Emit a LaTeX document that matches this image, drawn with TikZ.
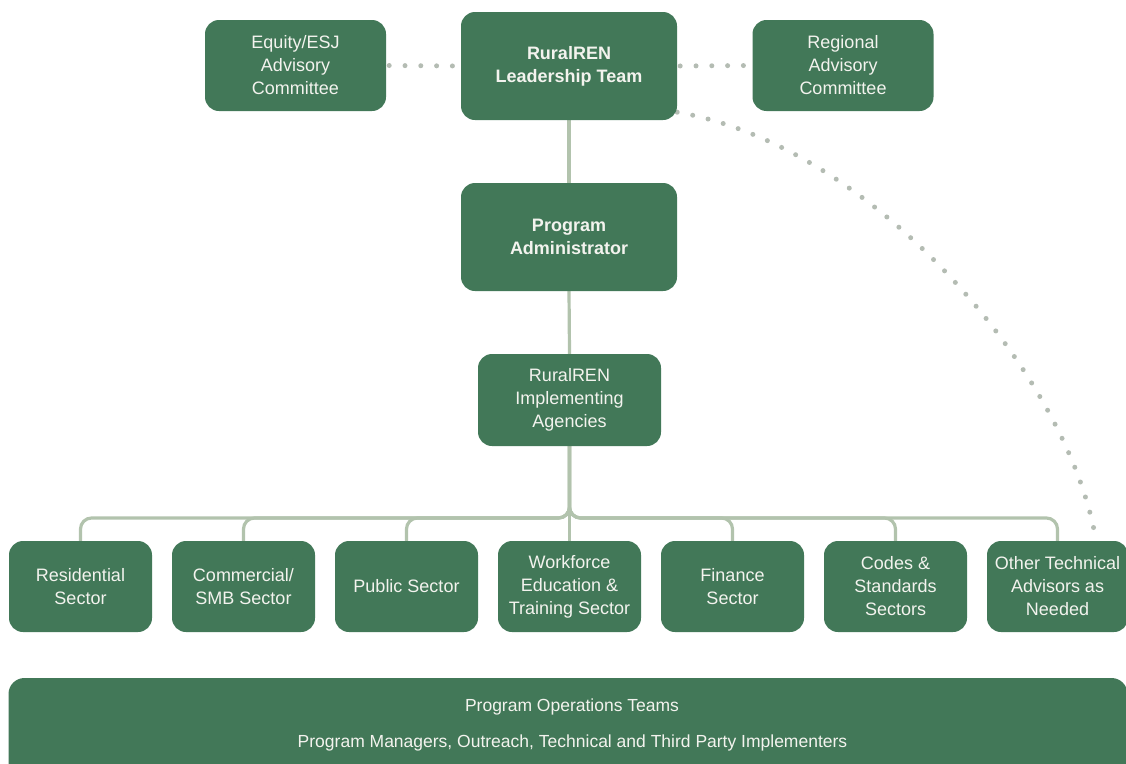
\documentclass[tikz,border=0pt]{standalone}
\usepackage{fontspec}
\setmainfont{Liberation Sans}
\usetikzlibrary{backgrounds,calc}
\definecolor{boxgreen}{HTML}{427858}
\definecolor{linegreen}{HTML}{B2C3AD}
\definecolor{dotgray}{HTML}{B4BCB3}
\definecolor{txtwhite}{HTML}{F3F3EE}
\begin{document}
\begin{tikzpicture}[x=1pt,y=-1pt,
  box/.style={fill=boxgreen, rounded corners=14pt, text=txtwhite, align=center,
    inner sep=0pt, font=\fontsize{18}{23}\selectfont},
  topbox/.style={box, minimum width=181pt, minimum height=91pt},
  bigbox/.style={box, minimum width=216pt, minimum height=108pt, font=\fontsize{18}{23}\selectfont\bfseries},
  secbox/.style={box, minimum width=143pt, minimum height=91pt},
  barbox/.style={fill=boxgreen, rounded corners=16pt, inner sep=0pt},
  bartext/.style={text=txtwhite, inner sep=0pt, font=\fontsize{17.5}{20}\selectfont},
  link/.style={draw=linegreen, line width=3.2pt},
  branch/.style={link, rounded corners=11pt},
  dots/.style={draw=dotgray, line width=5pt, line cap=round, dash pattern=on 0pt off 15.8pt}
]
\useasboundingbox (0,0) rectangle (1126,763);
\clip (0,0) rectangle (1126,763);

% top row
\node[topbox] (eq) at (295.5,65.5) {Equity/ESJ\\Advisory\\Committee};
\node[bigbox] (lead) at (569,66) {RuralREN\\Leadership Team};
\node[topbox] (reg) at (843,65.5) {Regional\\Advisory\\Committee};

% middle
\node[bigbox] (admin) at (569,237) {Program\\Administrator};
\node[box, minimum width=183pt, minimum height=92pt] (impl) at (569.5,400) {RuralREN\\Implementing\\Agencies};

% sectors
\node[secbox] (s1) at (80.5,586.5) {Residential\\Sector};
\node[secbox] (s2) at (243.5,586.5) {Commercial/\\SMB Sector};
\node[secbox] (s3) at (406.5,586.5) {Public Sector};
\node[secbox] (s4) at (569.5,586.5) {Workforce\\Education \&\\Training Sector};
\node[secbox] (s5) at (732.5,586.5) {Finance\\Sector};
\node[secbox] (s6) at (895.5,586.5) {Codes \&\\Standards\\Sectors};
\node[secbox, minimum width=141pt] (s7) at (1057.5,586.5) {Other Technical\\Advisors as\\Needed};

% bottom bar
\node[barbox, minimum width=1119pt, minimum height=124pt] (ops) at (568,740) {};
\node[bartext] (opsA) at (572,707) {Program Operations Teams};
\node[bartext] (opsB) at (572.5,743) {Program Managers, Outreach, Technical and Third Party Implementers};

\begin{scope}[on background layer]
  \draw[link] (lead.south) -- (admin.north);
  \draw[link] (admin.south) -- (impl.north);
  \draw[link] (impl.south) -- (s4.north);
  \foreach \s in {s1,s2,s3,s5,s6,s7}{
    \draw[branch] (impl.south) -- (impl.south |- 0,518) -- (\s.north |- 0,518) -- (\s.north);
  }
  \draw[dots, shorten <=3pt, shorten >=2pt] (eq.east) -- (lead.west);
  \draw[dots, shorten <=3pt, shorten >=2pt] (lead.east) -- (reg.west);
  \draw[dots] ([yshift=8pt]lead.south east) .. controls (870,145) and (1060,365) .. ([xshift=36.5pt,yshift=11pt]s7.north);
\end{scope}
\end{tikzpicture}
\end{document}
